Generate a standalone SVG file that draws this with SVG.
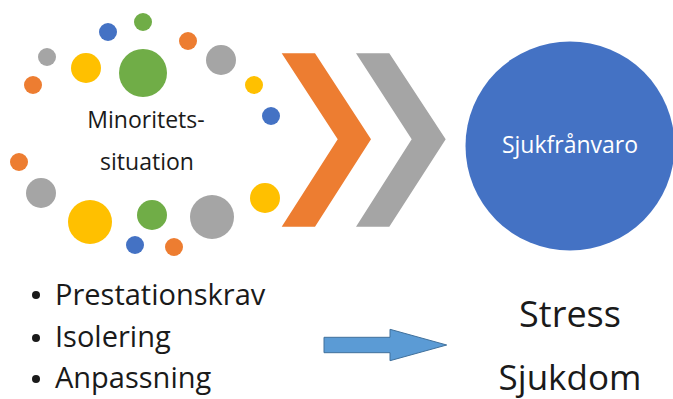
<svg xmlns="http://www.w3.org/2000/svg" width="673" height="399" viewBox="0 0 673 399">
  <style>
    .t { font-family: "Open Sans", "Liberation Sans", sans-serif; fill: #1a1a1a; }
    .o { fill: #ED7D31; }
    .g { fill: #A5A5A5; }
    .y { fill: #FFC000; }
    .b { fill: #4472C4; }
    .gr { fill: #70AD47; }
  </style>
  <rect width="673" height="399" fill="#ffffff"/>
  <g id="minoritetssituation">
    <circle class="gr" cx="143" cy="22" r="9"/>
    <circle class="b" cx="108" cy="32" r="9"/>
    <circle class="o" cx="188" cy="41" r="9"/>
    <circle class="g" cx="47" cy="57" r="9"/>
    <circle class="y" cx="86" cy="68" r="15"/>
    <circle class="gr" cx="143" cy="73" r="24"/>
    <circle class="g" cx="221" cy="60" r="15"/>
    <circle class="o" cx="33" cy="85" r="9"/>
    <circle class="y" cx="254" cy="85" r="9"/>
    <circle class="b" cx="271" cy="116" r="9"/>
    <circle class="o" cx="19" cy="162" r="9"/>
    <circle class="g" cx="41" cy="193" r="15"/>
    <circle class="y" cx="90" cy="222" r="22"/>
    <circle class="gr" cx="152" cy="215" r="15"/>
    <circle class="g" cx="212" cy="217" r="22"/>
    <circle class="y" cx="265" cy="198" r="15"/>
    <circle class="b" cx="135" cy="245" r="9"/>
    <circle class="o" cx="174" cy="247" r="9"/>
    <text class="t" x="146" y="128" font-size="23" text-anchor="middle">Minoritets-</text>
    <text class="t" x="147" y="170" font-size="23" text-anchor="middle">situation</text>
  </g>
  <g id="chevrons">
    <polygon class="o" points="281.7,53.3 315,53.3 371,139.3 315,226.7 281.7,226.7 337.7,139.3"/>
    <polygon class="g" points="356,53.3 389.3,53.3 445.7,139.3 389.3,226.7 356,226.7 411.7,139.3"/>
  </g>
  <g id="sjukfranvaro">
    <circle class="b" cx="570" cy="146" r="104.5"/>
    <text x="570" y="153" font-size="23" text-anchor="middle" font-family="Open Sans, Liberation Sans, sans-serif" fill="#ffffff">Sjukfrånvaro</text>
  </g>
  <g id="faktorer">
    <circle cx="36" cy="295" r="4" fill="#1a1a1a"/>
    <circle cx="36" cy="338" r="4" fill="#1a1a1a"/>
    <circle cx="36" cy="379" r="4" fill="#1a1a1a"/>
    <text class="t" x="55" y="305" font-size="29">Prestationskrav</text>
    <text class="t" x="55" y="347" font-size="29">Isolering</text>
    <text class="t" x="55" y="388" font-size="29">Anpassning</text>
  </g>
  <g id="utfall">
    <text class="t" x="570" y="327" font-size="36" text-anchor="middle">Stress</text>
    <text class="t" x="570" y="390" font-size="35" text-anchor="middle">Sjukdom</text>
  </g>
  <g id="connectors">
    <polygon points="324,337.3 390,337.3 390,329.3 446.7,345 390,360.7 390,352.7 324,352.7" fill="#5B9BD5" stroke="#41719C" stroke-width="1"/>
  </g>
</svg>
